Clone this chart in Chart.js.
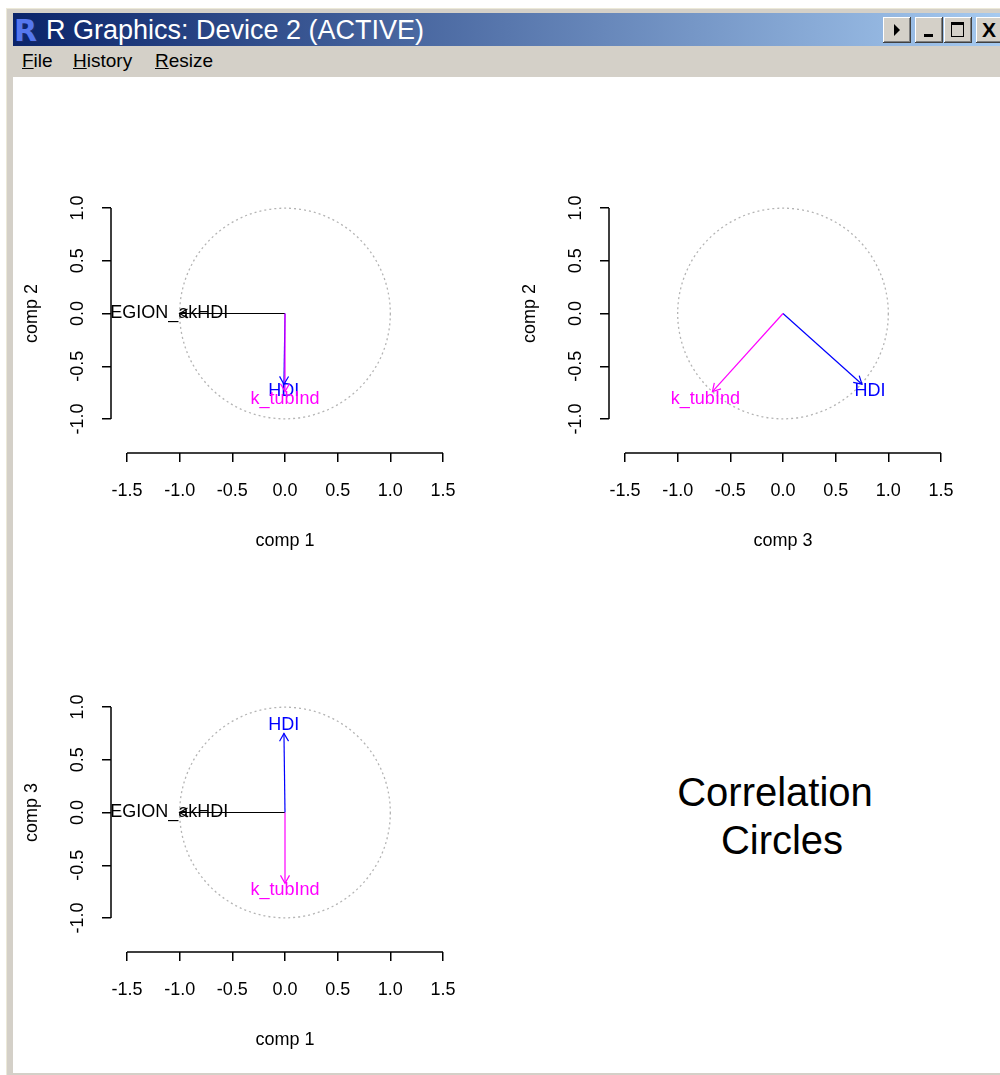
<!DOCTYPE html>
<html>
<head>
<meta charset="utf-8">
<script src="https://cdn.jsdelivr.net/npm/chart.js@4.4.0/dist/chart.umd.min.js"></script>
<style>
body { margin: 0; width: 1000px; height: 1075px; overflow: hidden; background: #fff; position: relative; font-family: "Liberation Sans", Arial, sans-serif; }
#frame { position: absolute; left: 6px; top: 8px; width: 1000px; height: 1067px; background: #D4D0C8; border-top: 1px solid #ECE9D8; border-left: 1px solid #ECE9D8; box-sizing: border-box; }
#titlebar { position: absolute; left: 13px; top: 13px; width: 987px; height: 33px; background: linear-gradient(to right, #0A246A, #A6CAF0); }
#ricon { position: absolute; left: 1px; top: 0px; font: bold 30px "DejaVu Sans", sans-serif; color: #5577ee; text-shadow: 1px 1px 0 #1a2a6a; }
#title { position: absolute; left: 33px; top: 2px; font-size: 27px; line-height: 30px; color: #fff; white-space: nowrap; }
.btn { position: absolute; top: 4px; width: 28px; height: 26px; background: #D4D0C8; box-shadow: inset -1px -1px #404040, inset 1px 1px #fff, inset -2px -2px #808080; }
#menu { position: absolute; left: 13px; top: 47px; width: 987px; height: 30px; }
.mi { position: absolute; top: 3px; font-size: 19px; line-height: 22px; color: #000; }
.mi u { text-decoration: underline; }
#client { position: absolute; left: 13px; top: 77px; width: 987px; height: 996px; background: #fff; }
canvas { position: absolute; }
.big { position: absolute; width: 240px; text-align: center; font-size: 40px; line-height: 40px; color: #000; }
</style>
</head>
<body>
<div id="frame"></div>
<div id="titlebar">
  <div id="ricon">R</div>
  <div id="title">R Graphics: Device 2 (ACTIVE)</div>
  <div class="btn" style="left:870px"><div style="position:absolute;left:11px;top:7px;width:0;height:0;border-top:6px solid transparent;border-bottom:6px solid transparent;border-left:6px solid #000"></div></div>
  <div class="btn" style="left:902px"><div style="position:absolute;left:9px;top:17px;width:9px;height:3px;background:#000"></div></div>
  <div class="btn" style="left:931px"><div style="position:absolute;left:7px;top:5px;width:11px;height:11px;border:1px solid #000;border-top-width:3px"></div></div>
  <div class="btn" style="left:963px"><div style="position:absolute;left:6px;top:0px;font:bold 21px 'Liberation Sans',sans-serif;line-height:26px">X</div></div>
</div>
<div id="menu">
  <span class="mi" style="left:9px"><u>F</u>ile</span>
  <span class="mi" style="left:60px"><u>H</u>istory</span>
  <span class="mi" style="left:142px"><u>R</u>esize</span>
</div>
<div id="client"></div>

<canvas id="p12" width="467" height="410" style="left:13px; top:150px"></canvas>
<canvas id="p32" width="467" height="410" style="left:511px; top:150px"></canvas>
<canvas id="p13" width="467" height="410" style="left:13px; top:649px"></canvas>

<div class="big" style="left:655px; top:772px">Correlation</div>
<div class="big" style="left:662px; top:820px">Circles</div>

<script>
// variables and their correlations with the components
const varNames = ['EGION_akHDI', 'HDI', 'k_tubInd'];
const varColors = ['#000000', '#0000FF', '#FF00FF'];
const comp1 = [-1.00, -0.01, 0.00];
const comp2 = [0.00, -0.67, -0.74];
const comp3 = [0.00, 0.75, -0.67];

const xTicks = [-1.5, -1.0, -0.5, 0.0, 0.5, 1.0, 1.5];
const xTickLabels = ['-1.5', '-1.0', '-0.5', '0.0', '0.5', '1.0', '1.5'];
const yTicks = [-1.0, -0.5, 0.0, 0.5, 1.0];
const yTickLabels = ['-1.0', '-0.5', '0.0', '0.5', '1.0'];

// plot region limits (equal aspect)
const xLim = 1.652;
const yLim = 1.322;

const axisFont = { family: 'Liberation Sans', size: 18 };

const rStyle = {
    id: 'rStyle',
    beforeDatasetsDraw(chart) {
        const ctx = chart.ctx;
        const x = chart.scales.x, y = chart.scales.y;
        const cx = x.getPixelForValue(0), cy = y.getPixelForValue(0);
        const r = x.getPixelForValue(1) - cx;
        ctx.save();
        ctx.strokeStyle = '#B4B4B4';
        ctx.lineWidth = 1.3;
        ctx.setLineDash([2, 3]);
        ctx.beginPath();
        ctx.arc(cx, cy, r, 0, Math.PI * 2);
        ctx.stroke();
        ctx.restore();
    },
    afterDatasetsDraw(chart) {
        const ctx = chart.ctx;
        const x = chart.scales.x, y = chart.scales.y;
        chart.data.datasets.forEach((ds, i) => {
            const end = ds.data[1];
            if (end.x === 0 && end.y === 0) return;
            const meta = chart.getDatasetMeta(i);
            const p0 = meta.data[0], p1 = meta.data[1];
            const a = Math.atan2(p1.y - p0.y, p1.x - p0.x);
            const len = 9;
            ctx.save();
            ctx.strokeStyle = ds.borderColor;
            ctx.lineWidth = 1.2;
            ctx.beginPath();
            ctx.moveTo(p1.x - len * Math.cos(a - Math.PI / 6), p1.y - len * Math.sin(a - Math.PI / 6));
            ctx.lineTo(p1.x, p1.y);
            ctx.lineTo(p1.x - len * Math.cos(a + Math.PI / 6), p1.y - len * Math.sin(a + Math.PI / 6));
            ctx.stroke();
            // label a bit beyond the arrow tip
            ctx.fillStyle = ds.borderColor;
            ctx.font = '18px "Liberation Sans"';
            ctx.textAlign = 'center';
            ctx.textBaseline = 'middle';
            ctx.fillText(ds.label, x.getPixelForValue(end.x * 1.1), y.getPixelForValue(end.y * 1.1));
            ctx.restore();
        });
    },
    afterDraw(chart) {
        // R style axis: line only between first and last tick
        const ctx = chart.ctx;
        const x = chart.scales.x, y = chart.scales.y;
        ctx.save();
        ctx.strokeStyle = '#000';
        ctx.lineWidth = 1.5;
        ctx.beginPath();
        ctx.moveTo(x.getPixelForValue(x.ticks[0].value), x.top);
        ctx.lineTo(x.getPixelForValue(x.ticks[x.ticks.length - 1].value), x.top);
        ctx.moveTo(y.right, y.getPixelForValue(y.ticks[0].value));
        ctx.lineTo(y.right, y.getPixelForValue(y.ticks[y.ticks.length - 1].value));
        ctx.stroke();
        ctx.restore();
    }
};

function makePanel(id, xs, ys, xTitle, yTitle) {
    const datasets = varNames.map((name, i) => ({
        label: name,
        data: [{ x: 0, y: 0 }, { x: xs[i], y: ys[i] }],
        borderColor: varColors[i],
        borderWidth: 1.2,
        pointRadius: 0,
        showLine: true,
        clip: false,
        order: varNames.length - 1 - i   // later variables drawn on top
    }));
    return new Chart(document.getElementById(id), {
        type: 'scatter',
        data: { datasets: datasets },
        options: {
            responsive: false,
            animation: false,
            layout: { padding: { top: 24, right: 21, left: 0, bottom: 0 } },
            plugins: { legend: { display: false }, tooltip: { enabled: false } },
            scales: {
                x: {
                    type: 'linear',
                    min: -xLim,
                    max: xLim,
                    afterBuildTicks: s => { s.ticks = xTicks.map(v => ({ value: v })); },
                    afterFit: s => { s.height = 107; },
                    border: { display: false },
                    grid: { drawOnChartArea: false, tickLength: 9, color: '#000', lineWidth: 1.5 },
                    ticks: { font: axisFont, color: '#000', padding: 18, maxRotation: 0, autoSkip: false,
                        callback: (v, i) => xTickLabels[i] },
                    title: { display: true, text: xTitle, font: axisFont, color: '#000', padding: { top: 0, bottom: 8 } }
                },
                y: {
                    type: 'linear',
                    min: -yLim,
                    max: yLim,
                    afterBuildTicks: s => { s.ticks = yTicks.map(v => ({ value: v })); },
                    afterFit: s => { s.width = 98; },
                    border: { display: false },
                    grid: { drawOnChartArea: false, tickLength: 9, color: '#000', lineWidth: 1.5 },
                    ticks: { font: axisFont, color: '#000', padding: 8.5, minRotation: 90, maxRotation: 90,
                        crossAlign: 'center', autoSkip: false, callback: (v, i) => yTickLabels[i] },
                    title: { display: true, text: yTitle, font: axisFont, color: '#000', padding: { top: 8, bottom: 0 } }
                }
            }
        },
        plugins: [rStyle]
    });
}

makePanel('p12', comp1, comp2, 'comp 1', 'comp 2');
makePanel('p32', comp3, comp2, 'comp 3', 'comp 2');
makePanel('p13', comp1, comp3, 'comp 1', 'comp 3');
</script>
</body>
</html>
